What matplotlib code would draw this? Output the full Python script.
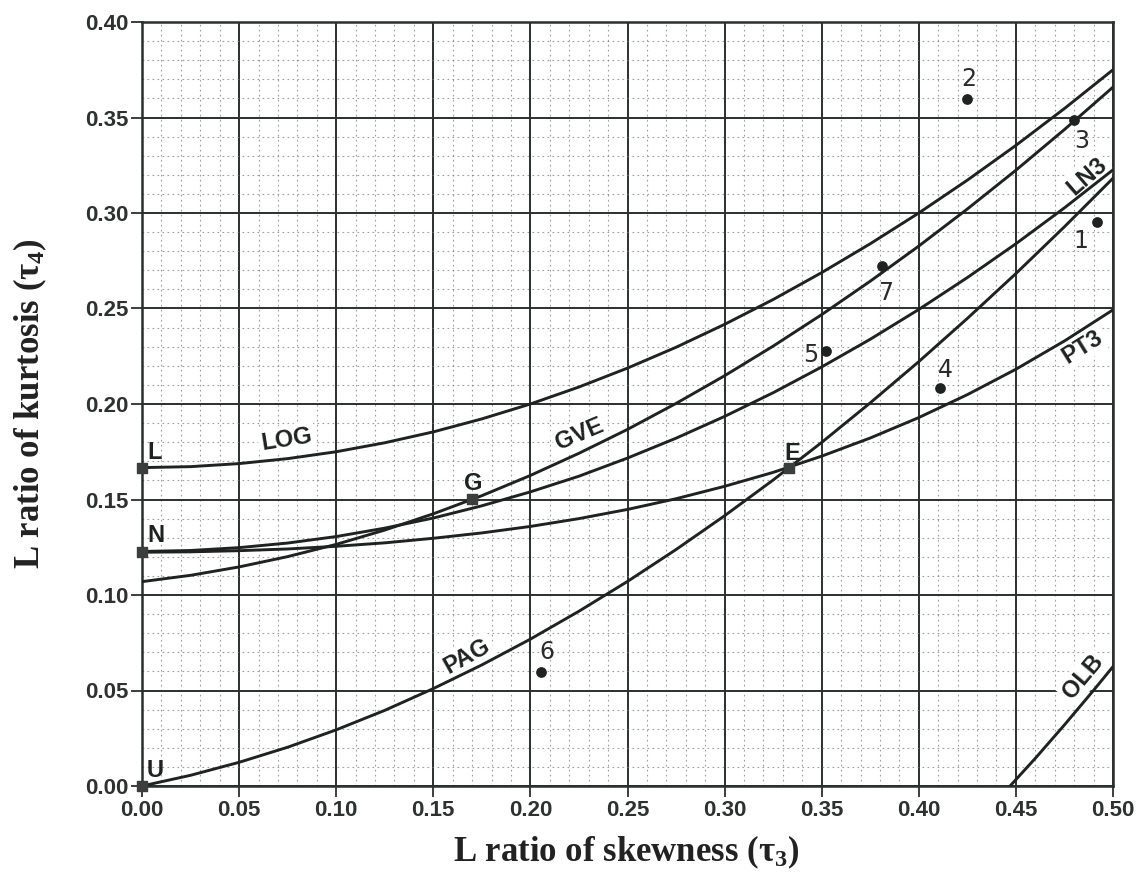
import matplotlib
matplotlib.use("Agg")
import matplotlib.pyplot as plt
from matplotlib.ticker import MultipleLocator, FormatStrFormatter

# ---------------- data ----------------
tau3_grid = [0.000, 0.025, 0.050, 0.075, 0.100, 0.125, 0.150, 0.175, 0.200, 0.225,
             0.250, 0.275, 0.300, 0.325, 0.350, 0.375, 0.400, 0.425, 0.450, 0.475, 0.500]

log_tau4 = [0.1667, 0.1672, 0.1688, 0.1714, 0.1750, 0.1797, 0.1854, 0.1922, 0.2000, 0.2089,
            0.2188, 0.2297, 0.2417, 0.2547, 0.2688, 0.2839, 0.3000, 0.3172, 0.3354, 0.3547, 0.3750]
gve_tau4 = [0.1070, 0.1103, 0.1147, 0.1201, 0.1265, 0.1340, 0.1425, 0.1520, 0.1626, 0.1742,
            0.1867, 0.2003, 0.2148, 0.2303, 0.2468, 0.2643, 0.2827, 0.3021, 0.3224, 0.3437, 0.3659]
ln3_tau4 = [0.1228, 0.1233, 0.1248, 0.1272, 0.1306, 0.1350, 0.1403, 0.1467, 0.1540, 0.1622,
            0.1717, 0.1821, 0.1935, 0.2059, 0.2194, 0.2339, 0.2495, 0.2662, 0.2839, 0.3027, 0.3226]
pt3_tau4 = [0.1224, 0.1226, 0.1232, 0.1241, 0.1255, 0.1273, 0.1297, 0.1325, 0.1359, 0.1400,
            0.1448, 0.1504, 0.1569, 0.1642, 0.1727, 0.1822, 0.1929, 0.2049, 0.2182, 0.2330, 0.2493]
pag_tau4 = [0.0000, 0.0056, 0.0124, 0.0203, 0.0294, 0.0396, 0.0510, 0.0634, 0.0769, 0.0915,
            0.1071, 0.1238, 0.1415, 0.1602, 0.1799, 0.2006, 0.2222, 0.2448, 0.2683, 0.2928, 0.3182]
olb_tau3 = [0.447, 0.460, 0.475, 0.490, 0.500]
olb_tau4 = [0.000, 0.0145, 0.0320, 0.0501, 0.0625]

curve_names = ["LOG", "GVE", "LN3", "PT3", "PAG", "OLB"]

# special points
special_names = ["L", "N", "U", "G", "E"]
special_tau3 = [0.0, 0.0, 0.0, 0.1699, 0.3333]
special_tau4 = [0.1667, 0.1226, 0.0, 0.1504, 0.1667]

# sample points
site_ids = ["1", "2", "3", "4", "5", "6", "7"]
site_tau3 = [0.492, 0.425, 0.480, 0.411, 0.352, 0.2055, 0.381]
site_tau4 = [0.2955, 0.3597, 0.3487, 0.2084, 0.2277, 0.0597, 0.2723]

x_ticks = [0.00, 0.05, 0.10, 0.15, 0.20, 0.25, 0.30, 0.35, 0.40, 0.45, 0.50]
y_ticks = [0.00, 0.05, 0.10, 0.15, 0.20, 0.25, 0.30, 0.35, 0.40]

# ---------------- figure ----------------
plt.rcParams["mathtext.fontset"] = "custom"
plt.rcParams["mathtext.rm"] = "Liberation Serif:bold"
plt.rcParams["mathtext.it"] = "Liberation Serif:bold"
plt.rcParams["mathtext.bf"] = "Liberation Serif:bold"

W, H = 1140, 890
fig = plt.figure(figsize=(W / 100, H / 100), dpi=100)
L, R, T, B = 142, 1113, 22, 786
ax = fig.add_axes([L / W, 1 - B / H, (R - L) / W, (B - T) / H])

ink = "#2b2f2d"
curve_col = "#1e2220"
ax.set_xlim(0, 0.5)
ax.set_ylim(0, 0.4)

ax.xaxis.set_minor_locator(MultipleLocator(0.01))
ax.yaxis.set_minor_locator(MultipleLocator(0.01))
ax.set_xticks(x_ticks)
ax.set_yticks(y_ticks)
ax.xaxis.set_major_formatter(FormatStrFormatter("%.2f"))
ax.yaxis.set_major_formatter(FormatStrFormatter("%.2f"))

ax.grid(which="major", color=ink, lw=1.4, ls="-")
ax.grid(which="minor", color="#7a7e7c", lw=0.8, ls=(0, (1.5, 3)), alpha=0.75)
ax.set_axisbelow(True)
for s in ax.spines.values():
    s.set_color(ink)
    s.set_linewidth(1.8)

ax.tick_params(which="major", length=8, width=1.3, color=ink, direction="out",
               labelsize=16, labelcolor="#2e3130", pad=2)
ax.tick_params(which="minor", length=0)
for lab in ax.get_xticklabels() + ax.get_yticklabels():
    lab.set_family("Liberation Sans")
    lab.set_fontweight("bold")

# curves
curve_lw = 2.1
ax.plot(tau3_grid, log_tau4, color=curve_col, lw=curve_lw, zorder=3)
ax.plot(tau3_grid, gve_tau4, color=curve_col, lw=curve_lw, zorder=3)
ax.plot(tau3_grid, ln3_tau4, color=curve_col, lw=curve_lw, zorder=3)
ax.plot(tau3_grid, pt3_tau4, color=curve_col, lw=curve_lw, zorder=3)
ax.plot(tau3_grid, pag_tau4, color=curve_col, lw=curve_lw, zorder=3)
ax.plot(olb_tau3, olb_tau4, color=curve_col, lw=curve_lw, zorder=3)

# curve labels (position in data coords, rotation in degrees)
curve_label_pos = {
    "LOG": (0.0745, 0.1815, 9),
    "GVE": (0.2255, 0.1840, 23),
    "LN3": (0.4866, 0.3190, 41),
    "PT3": (0.4840, 0.2298, 32),
    "PAG": (0.1675, 0.0680, 29),
    "OLB": (0.4846, 0.0571, 50),
}
for name in curve_names:
    x, y, rot = curve_label_pos[name]
    ax.text(x, y, name, rotation=rot, ha="center", va="center", fontsize=17,
            fontweight="bold", family="Liberation Sans", color=curve_col, zorder=2.5,
            bbox=dict(boxstyle="square,pad=0.12", fc="white", ec="none"),
            rotation_mode="anchor")

# special points
ax.scatter(special_tau3, special_tau4, marker="s", s=50, color="#3a3e3c",
           zorder=5, clip_on=False)
special_lbl = {"L": (0.0026, 0.1712, "left"), "N": (0.0030, 0.1277, "left"),
               "U": (0.0022, 0.0047, "left"), "G": (0.1704, 0.1550, "center"),
               "E": (0.3350, 0.1707, "center")}
for n in special_names:
    x, y, ha = special_lbl[n]
    ax.text(x, y, n, ha=ha, va="baseline", fontsize=17, fontweight="bold",
            family="Liberation Sans", color=curve_col, zorder=5)

# numbered points
ax.scatter(site_tau3, site_tau4, marker="o", s=45, color=curve_col, zorder=5)
site_lbl = {"1": (0.4835, 0.2855), "2": (0.4255, 0.3700), "3": (0.4840, 0.3375),
            "4": (0.4135, 0.2180), "5": (0.3445, 0.2255), "6": (0.2085, 0.0703),
            "7": (0.3830, 0.2580)}
for sid in site_ids:
    x, y = site_lbl[sid]
    ax.text(x, y, sid, ha="center", va="center", fontsize=17,
            family="DejaVu Sans", color="#2a2a2a", zorder=5)

# axis titles
fig.text(626 / W, 1 - 852 / H, r"L ratio of skewness ($\mathrm{\tau}_3$)",
         ha="center", va="center", fontsize=25, family="Liberation Serif",
         fontweight="bold", color="#222")
fig.text(30 / W, 1 - 404 / H, r"L ratio of kurtosis ($\mathrm{\tau}_4$)",
         ha="center", va="center", rotation=90, fontsize=25,
         family="Liberation Serif", fontweight="bold", color="#222")

fig.savefig("out.png", dpi=100, facecolor="white")
